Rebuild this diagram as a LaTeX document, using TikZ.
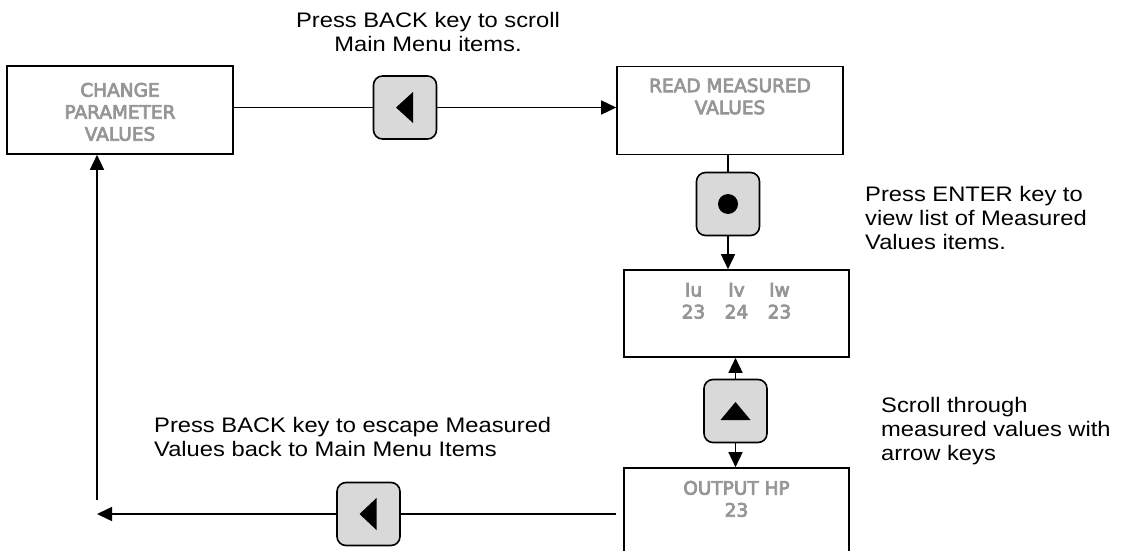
\documentclass[tikz,border=0pt]{standalone}
\usepackage{fontspec}
\setmainfont{Liberation Sans}[FakeStretch=1.13]
\newfontfamily\lcdfont{DejaVu Sans}[FakeBold=4]
\usetikzlibrary{arrows.meta, positioning, calc}
\definecolor{LCDGray}{RGB}{150,150,150}
\definecolor{KeyGray}{RGB}{217,217,217}

\newcommand{\lcdcell}[1]{\makebox[24pt]{#1}}

\tikzset{
  menubox/.style={draw=black, line width=1.6pt, minimum width=226pt, minimum height=88pt, inner sep=0pt},
  lcdtext/.style={font=\lcdfont\fontsize{18.5}{22}\selectfont, text=LCDGray, align=center, inner sep=0pt, anchor=north},
  keybox/.style={draw=black, line width=1.6pt, fill=KeyGray, rounded corners=9pt, minimum width=63pt, minimum height=63pt, inner sep=0pt},
  hint/.style={font=\fontsize{21}{24}\selectfont, inner sep=0pt},
  link/.style={line width=1.5pt},
  flow/.style={line width=1.5pt, -{Triangle[length=15pt,width=14pt]}},
}

\begin{document}
\begin{tikzpicture}[x=1pt, y=-1pt]
  \clip (0,0) rectangle (1124,551);

  % menu screens
  \node[menubox] (change) at (120,110) {};
  \node[menubox] (read) at (730,110.5) {};
  \node[menubox, minimum width=225pt, minimum height=87pt] (currents) at (736.5,313.5) {};
  \node[menubox, minimum width=225pt, minimum height=100pt] (output) at (736.5,518) {};

  \node[lcdtext] (change-txt) at ([yshift=-17.5pt]change.north) {CHANGE\\PARAMETER\\VALUES};
  \node[lcdtext] (read-txt) at ([yshift=-12.5pt]read.north) {READ MEASURED\\VALUES};
  \node[lcdtext] (currents-txt) at ([yshift=-13.5pt]currents.north)
    {\lcdcell{Iu}\hspace{19pt}\lcdcell{Iv}\hspace{19pt}\lcdcell{Iw}\\
     \lcdcell{23}\hspace{19pt}\lcdcell{24}\hspace{19pt}\lcdcell{23}};
  \node[lcdtext] (output-txt) at ([yshift=-13.5pt]output.north) {OUTPUT HP\\23};

  % keypad keys
  \node[keybox] (backkey) at (405,107.5) {};
  \node[keybox] (enterkey) at (728,204) {};
  \node[keybox] (upkey) at (735.5,411) {};
  \node[keybox] (escapekey) at (368.5,514) {};

  \fill ($(backkey)+(-9,0)$) -- ++(17,-15.5) -- ++(0,31) -- cycle;
  \fill ($(escapekey)+(-9,0)$) -- ++(17,-16) -- ++(0,32) -- cycle;
  \fill (enterkey) circle[radius=10pt];
  \fill ($(upkey)+(0,-9)$) -- ++(15,18) -- ++(-30,0) -- cycle;

  % connectors
  \coordinate (outstub) at ($(output.west |- escapekey)+(-7,0)$);
  \coordinate (backend) at (97,514);
  \coordinate (upstart) at (97,500);

  \draw[link] (change.east |- backkey) -- (backkey.west);
  \draw[flow] (backkey.east) -- (backkey.east -| read.west);
  \draw[link] (read.south -| enterkey) -- (enterkey.north);
  \draw[flow] (enterkey.south) -- (enterkey.south |- currents.north);
  \draw[flow] (upkey.north) -- (upkey.north |- currents.south);
  \draw[flow] (upkey.south) -- (upkey.south |- output.north);
  \draw[link] (outstub) -- (escapekey.east);
  \draw[flow] (escapekey.west) -- (backend);
  \draw[flow] (upstart) -- (upstart |- change.south);

  % hints
  \node[hint, align=center, anchor=north] (scroll-hint) at (428,12)
    {Press BACK key to scroll\\Main Menu items.};
  \node[hint, align=left, anchor=north west] (enter-hint) at (865,186.5)
    {Press ENTER key to\\view list of Measured\\Values items.};
  \node[hint, align=left, anchor=north west] (arrow-hint) at (881,397.5)
    {Scroll through\\measured values with\\arrow keys};
  \node[hint, align=left, anchor=north west] (escape-hint) at (154,417.5)
    {Press BACK key to escape Measured\\Values back to Main Menu Items};
\end{tikzpicture}
\end{document}
